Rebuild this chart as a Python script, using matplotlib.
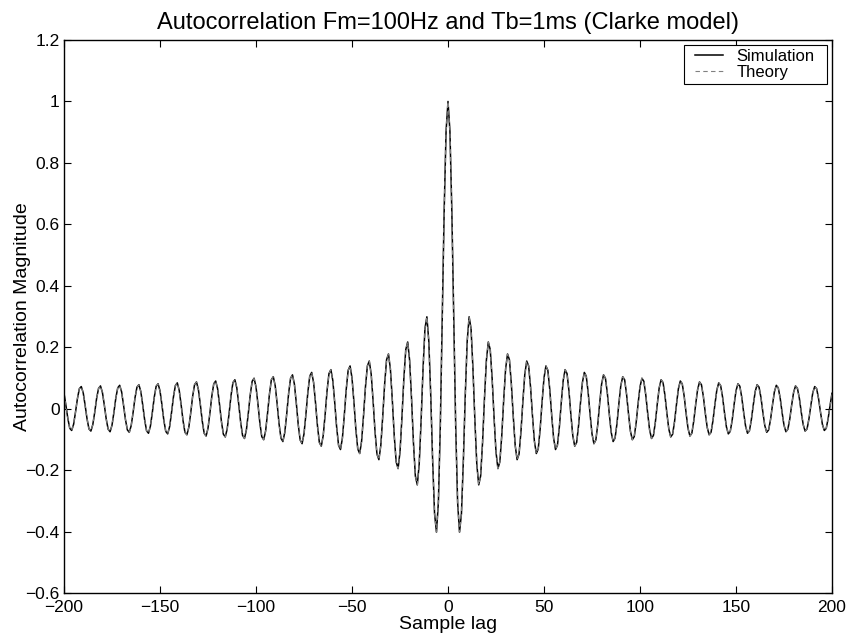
import numpy as np
import matplotlib
matplotlib.use("Agg")
import matplotlib.pyplot as plt
from matplotlib.patches import Rectangle
from matplotlib.transforms import IdentityTransform

# Autocorrelation values for lags 0..200 (symmetric for negative lags)
theory_half = [
    1.000, 0.904, 0.643, 0.291, -0.055, -0.304, -0.402, -0.342, -0.169, 0.045,
    0.220, 0.299, 0.261, 0.130, -0.038, -0.181, -0.248, -0.219, -0.110, 0.034,
    0.158, 0.217, 0.192, 0.097, -0.030, -0.141, -0.195, -0.173, -0.088, 0.028,
    0.129, 0.178, 0.159, 0.080, -0.026, -0.120, -0.166, -0.148, -0.075, 0.024,
    0.112, 0.155, 0.139, 0.070, -0.023, -0.106, -0.146, -0.131, -0.066, 0.022,
    0.100, 0.139, 0.125, 0.063, -0.021, -0.096, -0.133, -0.119, -0.060, 0.020,
    0.092, 0.127, 0.114, 0.058, -0.020, -0.088, -0.122, -0.110, -0.055, 0.019,
    0.085, 0.118, 0.106, 0.053, -0.018, -0.082, -0.114, -0.102, -0.052, 0.018,
    0.080, 0.110, 0.099, 0.050, -0.017, -0.077, -0.107, -0.096, -0.049, 0.017,
    0.075, 0.104, 0.094, 0.047, -0.016, -0.073, -0.101, -0.091, -0.046, 0.016,
    0.071, 0.099, 0.089, 0.045, -0.015, -0.069, -0.097, -0.087, -0.044, 0.015,
    0.068, 0.094, 0.085, 0.043, -0.015, -0.066, -0.092, -0.083, -0.042, 0.014,
    0.065, 0.090, 0.081, 0.041, -0.014, -0.064, -0.089, -0.080, -0.040, 0.014,
    0.062, 0.087, 0.078, 0.040, -0.014, -0.061, -0.085, -0.077, -0.039, 0.013,
    0.060, 0.084, 0.075, 0.038, -0.013, -0.059, -0.082, -0.074, -0.038, 0.013,
    0.058, 0.081, 0.073, 0.037, -0.013, -0.057, -0.080, -0.072, -0.036, 0.012,
    0.056, 0.078, 0.070, 0.036, -0.012, -0.055, -0.077, -0.069, -0.035, 0.012,
    0.055, 0.076, 0.068, 0.035, -0.012, -0.054, -0.075, -0.067, -0.034, 0.012,
    0.053, 0.074, 0.066, 0.034, -0.012, -0.052, -0.073, -0.066, -0.033, 0.011,
    0.052, 0.072, 0.065, 0.033, -0.011, -0.051, -0.071, -0.064, -0.032, 0.011,
    0.050,
]
# Simulation follows the theory curve to within line width
simulation_half = list(theory_half)

max_lag = 200
lags = np.arange(-max_lag, max_lag + 1)
theory = np.concatenate([theory_half[:0:-1], theory_half])
simulation = np.concatenate([simulation_half[:0:-1], simulation_half])

x_ticks = [-200, -150, -100, -50, 0, 50, 100, 150, 200]
y_ticks = [-0.6, -0.4, -0.2, 0, 0.2, 0.4, 0.6, 0.8, 1.0, 1.2]
y_tick_labels = ["\u22120.6", "\u22120.4", "\u22120.2", "0", "0.2", "0.4", "0.6", "0.8", "1", "1.2"]
x_tick_labels = ["\u2212200", "\u2212150", "\u2212100", "\u221250", "0", "50", "100", "150", "200"]

plt.rcParams['font.family'] = ['Liberation Sans', 'DejaVu Sans']

W, H = 848, 639
fig = plt.figure(figsize=(W / 100, H / 100), dpi=100)
ax_l, ax_r, ax_t, ax_b = 64, 832, 40, 593
ax = fig.add_axes([ax_l / W, (H - ax_b) / H, (ax_r - ax_l) / W, (ax_b - ax_t) / H])

ax.plot(lags, simulation, color='black', linewidth=1.1, linestyle='-', label='Simulation')
ax.plot(lags, theory, color='0.5', linewidth=0.8, linestyle=(0, (4, 3)), label='Theory')

ax.set_xlim(-200, 200)
ax.set_ylim(-0.6, 1.2)
ax.set_xticks(x_ticks)
ax.set_xticklabels(x_tick_labels)
ax.set_yticks(y_ticks)
ax.set_yticklabels(y_tick_labels)
ax.tick_params(direction='in', top=True, right=True, length=5, width=0.8, labelsize=12.5)
ax.tick_params(axis='y', pad=3)
ax.tick_params(axis='x', pad=5)
for sp in ax.spines.values():
    sp.set_linewidth(1.0)

ax.set_xlabel('Sample lag', fontsize=14, labelpad=1)
ax.set_ylabel('Autocorrelation Magnitude', fontsize=14)
ax.yaxis.set_label_coords(-0.043, 0.5)
ax.set_title('Autocorrelation Fm=100Hz and Tb=1ms (Clarke model)', fontsize=17, pad=8)

# legend anchored so its (widened) frame sits in the upper right corner
anchor_x = (819 - ax_l) / (ax_r - ax_l)
anchor_y = (ax_b - 45) / (ax_b - ax_t)
leg = ax.legend(loc='upper right', bbox_to_anchor=(anchor_x, anchor_y), fontsize=12,
                frameon=False, borderaxespad=0.0, handlelength=1.7,
                borderpad=0.25, labelspacing=0.05, handletextpad=0.8)
leg.set_zorder(6)

fig.canvas.draw()
bb = leg.get_window_extent(fig.canvas.get_renderer())
frame = Rectangle((bb.x0 - 7, bb.y0), bb.width + 15, bb.height, transform=IdentityTransform(),
                  facecolor='white', edgecolor='black', linewidth=0.8, zorder=5, clip_on=False)
ax.add_patch(frame)

fig.savefig('out.png', dpi=100)
